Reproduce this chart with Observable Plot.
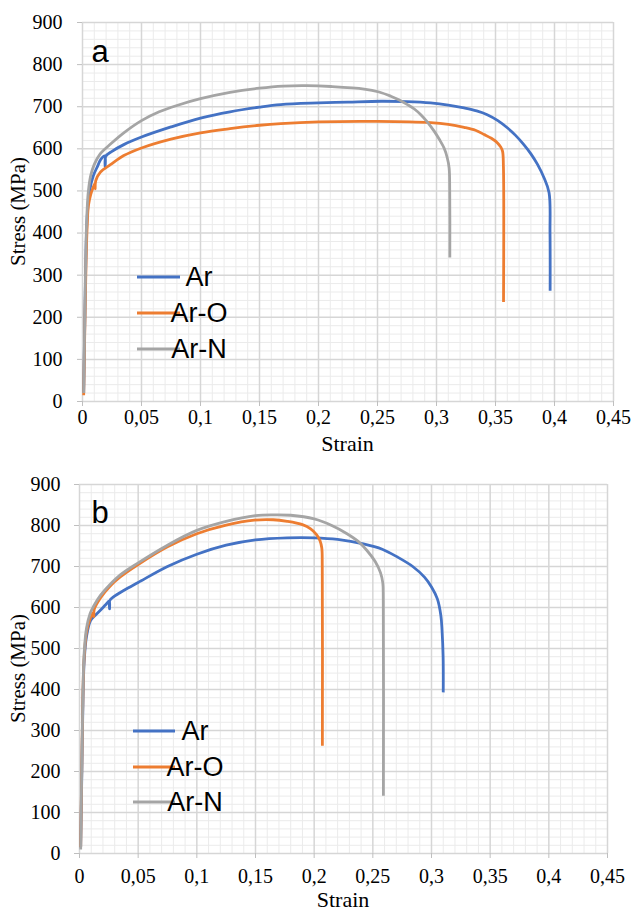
<!DOCTYPE html>
<html>
<head>
<meta charset="utf-8">
<script src="https://cdn.jsdelivr.net/npm/d3@7"></script>
<script src="https://cdn.jsdelivr.net/npm/@observablehq/plot@0.6"></script>
<style>
  html, body { margin: 0; padding: 0; background: #fff; }
  #chart { width: 632px; height: 913px; overflow: hidden; }
  #chart svg { display: block; }
</style>
</head>
<body>
<div id="chart"></div>
<script>
// ---- tick labels & categories ----
const xTicks = [0, 0.05, 0.1, 0.15, 0.2, 0.25, 0.3, 0.35, 0.4, 0.45];
const xTickLabels = ["0", "0,05", "0,1", "0,15", "0,2", "0,25", "0,3", "0,35", "0,4", "0,45"];
const yTicks = [0, 100, 200, 300, 400, 500, 600, 700, 800, 900];
const yTickLabels = ["0", "100", "200", "300", "400", "500", "600", "700", "800", "900"];
const seriesNames = ["Ar", "Ar-O", "Ar-N"];
const seriesColors = ["#4472C4", "#ED7D31", "#A5A5A5"];
const xTitle = "Strain";
const yTitle = "Stress (MPa)";
const panelNames = ["a", "b"];

// ---- panel a ----
const aArStrain = [0.001, 0.002, 0.003, 0.004, 0.006, 0.009, 0.013, 0.0155, 0.019, 0.0192, 0.0197, 0.025, 0.035, 0.05, 0.075, 0.1, 0.125, 0.15, 0.168, 0.2, 0.225, 0.253, 0.275, 0.295, 0.31, 0.3234, 0.334, 0.343, 0.352, 0.36, 0.367, 0.374, 0.38, 0.3856, 0.391, 0.3954, 0.3962, 0.3963];
const aArStress = [20, 200, 360, 440, 500, 535, 560, 575, 583, 558, 582, 594, 610, 628, 652, 673, 688, 699, 705, 709, 711, 713, 712, 709, 704, 697, 690, 681, 667, 650, 632, 610, 588, 563, 532, 496, 400, 263];

const aArOStrain = [0.001, 0.002, 0.003, 0.004, 0.005, 0.007, 0.009, 0.0105, 0.0107, 0.0112, 0.015, 0.024, 0.035, 0.05, 0.075, 0.1, 0.125, 0.15, 0.168, 0.2, 0.25, 0.295, 0.31, 0.3234, 0.333, 0.3404, 0.3465, 0.3517, 0.3545, 0.356, 0.3567, 0.3568];
const aArOStress = [15, 180, 330, 420, 465, 492, 508, 518, 505, 524, 544, 563, 584, 602, 623, 638, 648, 656, 660, 664, 665, 662, 658, 651, 644, 634, 625, 614, 604, 594, 560, 236];

const aArNStrain = [0.001, 0.002, 0.003, 0.004, 0.005, 0.007, 0.01, 0.015, 0.024, 0.035, 0.05, 0.065, 0.08, 0.1, 0.125, 0.15, 0.17, 0.19, 0.2105, 0.2387, 0.2513, 0.2613, 0.2685, 0.2754, 0.2815, 0.2867, 0.2925, 0.298, 0.3025, 0.3064, 0.309, 0.3107, 0.3112, 0.3113];
const aArNStress = [20, 210, 380, 460, 500, 537, 563, 588, 612, 638, 667, 688, 703, 719, 734, 744, 749, 750, 748, 742, 735, 725, 716, 705, 694, 681, 663, 642, 622, 602, 580, 555, 500, 342];

// ---- panel b ----
const bArStrain = [0.001, 0.002, 0.003, 0.004, 0.006, 0.0094, 0.013, 0.018, 0.022, 0.0254, 0.0256, 0.0258, 0.029, 0.038, 0.05, 0.075, 0.1, 0.125, 0.15, 0.177, 0.2, 0.22, 0.242, 0.258, 0.271, 0.284, 0.294, 0.3, 0.305, 0.308, 0.309, 0.3099, 0.31];
const bArStress = [15, 200, 380, 470, 530, 568, 580, 594, 606, 616, 597, 617, 626, 642, 661, 700, 730, 752, 765, 770, 770, 766, 755, 742, 723, 700, 674, 650, 621, 580, 544, 479, 393];

const bArOStrain = [0.001, 0.002, 0.003, 0.004, 0.006, 0.009, 0.012, 0.0122, 0.0126, 0.018, 0.026, 0.035, 0.049, 0.075, 0.1, 0.125, 0.149, 0.165, 0.177, 0.19, 0.197, 0.202, 0.205, 0.2065, 0.2069, 0.207];
const bArOStress = [15, 220, 400, 480, 540, 572, 588, 578, 596, 624, 652, 675, 703, 748, 780, 801, 813, 814, 810, 802, 792, 778, 763, 745, 700, 263];

const bArNStrain = [0.001, 0.002, 0.003, 0.004, 0.006, 0.009, 0.012, 0.018, 0.026, 0.035, 0.049, 0.075, 0.1, 0.125, 0.15, 0.165, 0.18, 0.2, 0.215, 0.228, 0.238, 0.245, 0.252, 0.2565, 0.2585, 0.2589, 0.259];
const bArNStress = [10, 220, 400, 490, 550, 585, 603, 630, 656, 680, 707, 752, 788, 810, 824, 826, 825, 816, 800, 780, 760, 739, 712, 685, 660, 620, 141];

function rows(name, xs, ys) {
  return xs.map((x, i) => ({series: name, strain: x, stress: ys[i]}));
}

const panels = [
  {
    name: panelNames[0],
    height: 456, marginTop: 22, marginBottom: 55, marginLeft: 82, marginRight: 19,
    xPad: 3, yPad: 15,
    data: [...rows("Ar", aArStrain, aArStress), ...rows("Ar-O", aArOStrain, aArOStress), ...rows("Ar-N", aArNStrain, aArNStress)],
    legend: {x1: 137, x2: 180, tx: 199, ys: [277, 313, 349]},
    label: {x: 100, y: 62},
    xTitleY: 446
  },
  {
    name: panelNames[1],
    height: 457, marginTop: 28, marginBottom: 60, marginLeft: 79, marginRight: 25,
    xPad: 10, yPad: 14,
    data: [...rows("Ar", bArStrain, bArStress), ...rows("Ar-O", bArOStrain, bArOStress), ...rows("Ar-N", bArNStrain, bArNStress)],
    legend: {x1: 133, x2: 175, tx: 195, ys: [275, 311, 346]},
    label: {x: 100, y: 67},
    xTitleY: 446
  }
];

const xMinor = d3.range(0, 46).map(i => i / 100).filter(v => !xTicks.some(t => Math.abs(t - v) < 1e-9));
const yMinor = d3.range(0, 46).map(i => i * 20).filter(v => v % 100 !== 0);

const serif = "'Liberation Serif', 'Times New Roman', serif";
const sans = "'Liberation Sans', Arial, sans-serif";

const root = document.getElementById("chart");

for (const p of panels) {
  const svg = Plot.plot({
    width: 632,
    height: p.height,
    marginTop: p.marginTop,
    marginBottom: p.marginBottom,
    marginLeft: p.marginLeft,
    marginRight: p.marginRight,
    style: {background: "#fff", fontFamily: serif, fontSize: "20px", color: "#000"},
    x: {domain: [0, 0.45]},
    y: {domain: [0, 900]},
    color: {domain: seriesNames, range: seriesColors},
    marks: [
      Plot.ruleX(xMinor, {stroke: "#ebebeb", strokeWidth: 1}),
      Plot.ruleY(yMinor, {stroke: "#ebebeb", strokeWidth: 1}),
      Plot.ruleX(xTicks, {stroke: "#d6d6d6", strokeWidth: 1.5}),
      Plot.ruleY(yTicks, {stroke: "#d6d6d6", strokeWidth: 1.5}),
      Plot.axisX({
        ticks: xTicks,
        tickFormat: d => xTickLabels[xTicks.indexOf(d)],
        tickSize: 5, tickPadding: p.xPad,
        stroke: "#bfbfbf", fill: "#000",
        fontSize: 20, fontFamily: serif,
        label: null
      }),
      Plot.axisY({
        ticks: yTicks,
        tickFormat: d => yTickLabels[yTicks.indexOf(d)],
        tickSize: 5, tickPadding: p.yPad,
        stroke: "#bfbfbf", fill: "#000",
        fontSize: 20, fontFamily: serif,
        label: null
      }),
      Plot.line(p.data, {
        x: "strain", y: "stress", z: "series", stroke: "series",
        curve: "catmull-rom",
        strokeWidth: 2.8, strokeLinejoin: "round", strokeLinecap: "butt"
      })
    ]
  });

  const s = d3.select(svg);
  const W = 632;
  const plotL = p.marginLeft, plotR = W - p.marginRight;
  const plotT = p.marginTop, plotB = p.height - p.marginBottom;

  // axis titles
  s.append("text")
    .attr("x", (plotL + plotR) / 2)
    .attr("y", p.xTitleY)
    .attr("text-anchor", "middle")
    .attr("dominant-baseline", "middle")
    .attr("font-family", serif)
    .attr("font-size", 22)
    .attr("fill", "#000")
    .text(xTitle);

  s.append("text")
    .attr("transform", `translate(20,${(plotT + plotB) / 2}) rotate(-90)`)
    .attr("text-anchor", "middle")
    .attr("dominant-baseline", "middle")
    .attr("font-family", serif)
    .attr("font-size", 21)
    .attr("fill", "#000")
    .text(yTitle);

  // panel letter
  s.append("text")
    .attr("x", p.label.x)
    .attr("y", p.label.y)
    .attr("font-family", sans)
    .attr("font-size", 31)
    .attr("fill", "#000")
    .text(p.name);

  // legend
  seriesNames.forEach((n, i) => {
    const y = p.legend.ys[i];
    s.append("line")
      .attr("x1", p.legend.x1).attr("x2", p.legend.x2)
      .attr("y1", y).attr("y2", y)
      .attr("stroke", seriesColors[i]).attr("stroke-width", 3);
    s.append("text")
      .attr("x", p.legend.tx).attr("y", y)
      .attr("dominant-baseline", "central")
      .attr("font-family", sans)
      .attr("font-size", 27)
      .attr("fill", "#000")
      .text(n);
  });

  root.appendChild(svg);
}
</script>
</body>
</html>
